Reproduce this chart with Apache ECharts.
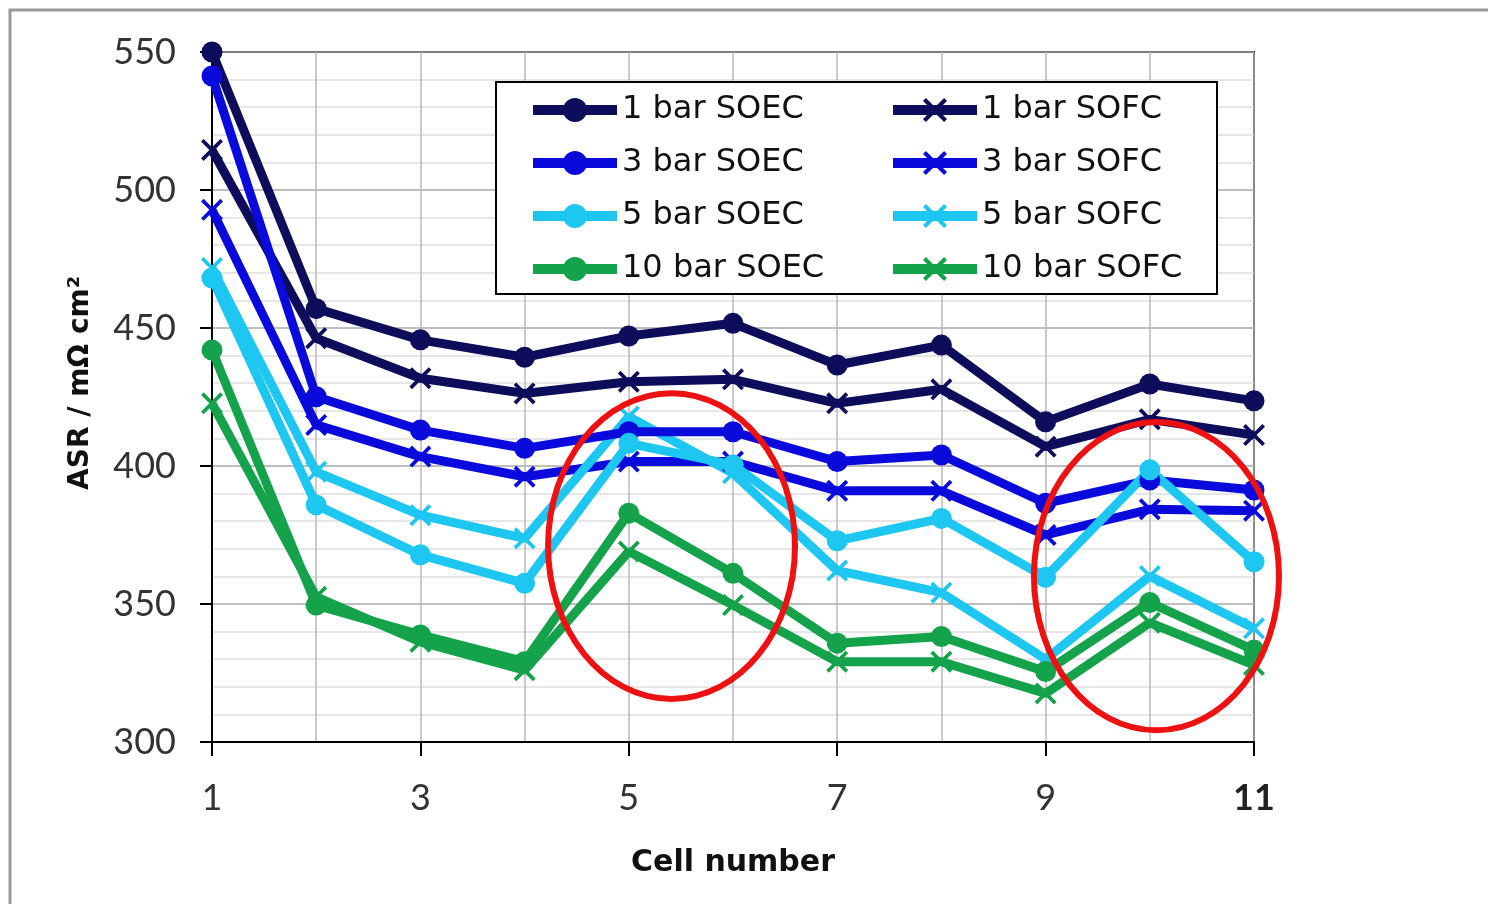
<!DOCTYPE html>
<html>
<head>
<meta charset="utf-8">
<script src="https://cdn.jsdelivr.net/npm/echarts@6/dist/echarts.min.js"></script>
<style>
html,body{margin:0;padding:0;background:#fff;}
#chart{width:1488px;height:904px;}
</style>
</head>
<body>
<div id="chart"></div>
<script>
// ---- data ----
const cells = [1, 2, 3, 4, 5, 6, 7, 8, 9, 10, 11];
const soec1  = [550, 457, 445.7, 439.4, 447.1, 451.7, 436.6, 443.8, 416, 429.7, 423.6];
const sofc1  = [514.5, 446.3, 431.8, 426.3, 430.5, 431.4, 422.7, 427.8, 407, 416.9, 411.2];
const soec3  = [541.3, 425.1, 413, 406.4, 412.4, 412.4, 401.6, 404, 386.5, 394.9, 391.3];
const sofc3  = [492.8, 414.9, 403.4, 396.1, 401.6, 401.6, 391, 391, 375, 384.3, 383.8];
const soec5  = [468.1, 385.9, 367.8, 357.5, 408.2, 400.4, 372.9, 381, 359.7, 398.6, 365.3];
const sofc5  = [471.7, 397.9, 382.2, 373.8, 417.9, 397.4, 362.1, 354.1, 330, 360.1, 341.2];
const soec10 = [442, 349.6, 338.8, 329.1, 382.9, 361.1, 335.8, 338.2, 325.5, 350.5, 333.3];
const sofc10 = [422.7, 352.6, 336.3, 326, 369, 349.6, 329.1, 329.1, 317.6, 343.2, 327.9];
const soecNames = ['1 bar SOEC', '3 bar SOEC', '5 bar SOEC', '10 bar SOEC'];
const sofcNames = ['1 bar SOFC', '3 bar SOFC', '5 bar SOFC', '10 bar SOFC'];
// highlighted regions (data coords): centre cell, centre ASR, half-width (cells), half-height (ASR)
const highlights = [[5.41, 371, 1.185, 55.4], [10.064, 360.1, 1.176, 55.8]];
const yTicks = {min: 300, max: 550, step: 50};
const xTicks = {min: 1, max: 11, step: 2};

// ---- styling ----
const colors = ['#0d0d5c', '#0a0adc', '#1ec6f2', '#14a24b'];
const xPath = 'path://M0,1.2 L1.2,0 L5,3.8 L8.8,0 L10,1.2 L6.2,5 L10,8.8 L8.8,10 L5,6.2 L1.2,10 L0,8.8 L3.8,5 Z';
const pairs = arr => arr.map((v, i) => [cells[i], v]);

const soecData = [soec1, soec3, soec5, soec10];
const sofcData = [sofc1, sofc3, sofc5, sofc10];
const series = [];
for (let i = 0; i < 4; i++) {
  series.push({
    name: sofcNames[i], type: 'line', data: pairs(sofcData[i]),
    symbol: xPath, symbolSize: 22, showSymbol: true,
    lineStyle: {color: colors[i], width: 9},
    itemStyle: {color: colors[i]},
    z: 2
  });
  series.push({
    name: soecNames[i], type: 'line', data: pairs(soecData[i]),
    symbol: 'circle', symbolSize: 21, showSymbol: true,
    lineStyle: {color: colors[i], width: 9},
    itemStyle: {color: colors[i]},
    z: 3
  });
}
series.push({
  type: 'custom', clip: false, silent: true, z: 10,
  data: highlights, encode: {x: 0, y: 1},
  renderItem: function (params, api) {
    const c = api.coord([api.value(0), api.value(1)]);
    const s = api.size([api.value(2), api.value(3)]);
    return {type: 'ellipse', shape: {cx: c[0], cy: c[1], rx: s[0], ry: s[1]},
      style: {fill: 'none', stroke: '#ee1111', lineWidth: 6}};
  }
});

const legendCommon = {
  orient: 'vertical', top: 91, padding: 0, itemWidth: 84, itemHeight: 30, itemGap: 15,
  lineStyle: {width: 10},
  textStyle: {fontFamily: 'DejaVu Sans', fontSize: 32, color: '#111', lineHeight: 38},
  z: 20
};

const chart = echarts.init(document.getElementById('chart'), null, {renderer: 'canvas'});
chart.setOption({
  backgroundColor: '#fff',
  animation: false,
  grid: {left: 212, right: 234, top: 52, bottom: 162, show: true, borderColor: '#000', borderWidth: 2, backgroundColor: '#fff'},
  graphic: [
    {type: 'rect', silent: true, z: -1, shape: {x: 10, y: 10, width: 1600, height: 1000},
      style: {fill: 'none', stroke: '#9a9a9a', lineWidth: 3}},
    {type: 'rect', silent: true, z: 15, shape: {x: 496, y: 82, width: 721, height: 212},
      style: {fill: '#fff', stroke: '#000', lineWidth: 2}}
  ],
  legend: [
    Object.assign({left: 528, data: soecNames}, legendCommon),
    Object.assign({left: 888, data: sofcNames}, legendCommon)
  ],
  xAxis: {
    type: 'value', min: xTicks.min, max: xTicks.max, interval: xTicks.step,
    name: 'Cell number', nameLocation: 'middle', nameGap: 106,
    nameTextStyle: {fontFamily: 'DejaVu Sans', fontWeight: 'bold', fontSize: 30, color: '#111'},
    axisLine: {lineStyle: {color: '#000', width: 2}},
    axisTick: {show: true, length: 14, lineStyle: {color: '#000', width: 2}},
    axisLabel: {
      margin: 38, fontFamily: 'Lato', fontSize: 36, color: '#333',
      formatter: v => v === xTicks.max ? '{b|' + v + '}' : String(v),
      rich: {b: {fontFamily: 'Lato', fontSize: 36, fontWeight: 'bold', color: '#222'}}
    },
    splitLine: {show: true, lineStyle: {color: '#b8b8b8', width: 1.5}},
    minorTick: {show: false, splitNumber: 2},
    minorSplitLine: {show: true, lineStyle: {color: '#b8b8b8', width: 1.5}}
  },
  yAxis: {
    type: 'value', min: yTicks.min, max: yTicks.max, interval: yTicks.step,
    name: 'ASR / mΩ cm²', nameLocation: 'middle', nameGap: 117, nameRotate: 90,
    nameTextStyle: {fontFamily: 'DejaVu Sans', fontWeight: 'bold', fontSize: 28, color: '#111', padding: [0, 0, 0, 28]},
    axisLine: {show: true, lineStyle: {color: '#000', width: 2}},
    axisTick: {show: true, length: 12, lineStyle: {color: '#000', width: 2}},
    axisLabel: {margin: 36, fontFamily: 'Lato', fontSize: 36, color: '#333'},
    splitLine: {show: true, lineStyle: {color: '#a8a8a8', width: 1.5}},
    minorTick: {show: false, splitNumber: 5},
    minorSplitLine: {show: true, lineStyle: {color: '#dedede', width: 1.5}}
  },
  series: series
});
</script>
</body>
</html>
